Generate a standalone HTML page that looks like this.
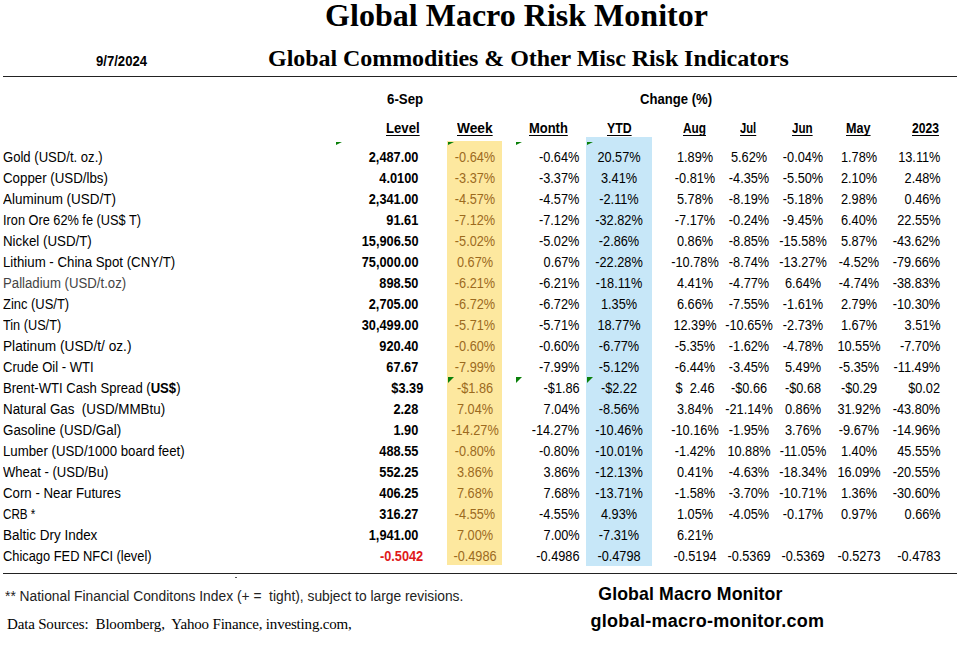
<!DOCTYPE html>
<html><head><meta charset="utf-8"><style>
html,body{margin:0;padding:0;background:#fff;}
body{width:969px;height:655px;position:relative;overflow:hidden;font-family:"Liberation Sans",sans-serif;color:#000;}
.s{position:absolute;white-space:pre;}
.hd{font-weight:bold;text-decoration:underline;text-decoration-thickness:1px;text-underline-offset:1.5px;text-decoration-skip-ink:none;}
.ln{position:absolute;left:3px;width:954px;height:1px;background:#222;}
.tri{position:absolute;width:0;height:0;border-top:6px solid #0a800a;border-right:6px solid transparent;}
</style></head><body>
<div style="position:absolute;left:447px;top:141px;width:55px;height:424px;background:#fde89f;"></div>
<div style="position:absolute;left:586px;top:137px;width:66px;height:429px;background:#c7e7f8;"></div>
<div class="ln" style="top:76px;"></div>
<div class="ln" style="top:573px;"></div>
<div id="title" class="s" style="left:325.10px;top:-5.80px;font-size:32px;line-height:42px;letter-spacing:0.015px;font-family:'Liberation Serif',serif;font-weight:bold;">Global Macro Risk Monitor</div>
<div id="sub" class="s" style="left:268.10px;top:43.00px;font-size:24px;line-height:31px;letter-spacing:-0.059px;font-family:'Liberation Serif',serif;font-weight:bold;">Global Commodities &amp; Other Misc Risk Indicators</div>
<div id="date" class="s" style="left:95.64px;top:52.05px;font-size:14px;line-height:18px;transform:scaleX(0.9366);transform-origin:0 50%;font-weight:bold;">9/7/2024</div>
<div id="sep" class="s" style="left:387.00px;top:90.35px;font-size:14px;line-height:18px;transform:scaleX(0.9474);transform-origin:0 50%;font-weight:bold;">6-Sep</div>
<div id="chg" class="s" style="left:640.00px;top:90.35px;font-size:14px;line-height:18px;transform:scaleX(0.9351);transform-origin:0 50%;font-weight:bold;">Change (%)</div>
<div id="h_Level" class="s hd" style="left:385.50px;top:118.75px;font-size:14px;line-height:18px;transform:scaleX(0.9395);transform-origin:0 50%;">Level</div>
<div id="h_Week" class="s hd" style="left:457.30px;top:118.75px;font-size:14px;line-height:18px;transform:scaleX(0.9815);transform-origin:0 50%;">Week</div>
<div id="h_Month" class="s hd" style="left:529.40px;top:118.75px;font-size:14px;line-height:18px;transform:scaleX(0.9244);transform-origin:0 50%;">Month</div>
<div id="h_YTD" class="s hd" style="left:607.00px;top:118.75px;font-size:14px;line-height:18px;transform:scaleX(0.8792);transform-origin:0 50%;">YTD</div>
<div id="h_Aug" class="s hd" style="left:683.20px;top:118.75px;font-size:14px;line-height:18px;transform:scaleX(0.8446);transform-origin:0 50%;">Aug</div>
<div id="h_Jul" class="s hd" style="left:740.40px;top:118.75px;font-size:14px;line-height:18px;transform:scaleX(0.8023);transform-origin:0 50%;">Jul</div>
<div id="h_Jun" class="s hd" style="left:791.90px;top:118.75px;font-size:14px;line-height:18px;transform:scaleX(0.8289);transform-origin:0 50%;">Jun</div>
<div id="h_May" class="s hd" style="left:846.30px;top:118.75px;font-size:14px;line-height:18px;transform:scaleX(0.9014);transform-origin:0 50%;">May</div>
<div id="h_2023" class="s hd" style="left:911.90px;top:118.75px;font-size:14px;line-height:18px;transform:scaleX(0.8656);transform-origin:0 50%;">2023</div>
<div id="lab0" class="s" style="left:3.05px;top:147.95px;font-size:14px;line-height:18px;transform:scaleX(0.9350);transform-origin:0 50%;">Gold (USD/t. oz.)</div>
<div id="lev0" class="s" style="right:550.60px;top:148.08px;font-size:14.5px;line-height:19px;font-weight:bold;transform:scaleX(0.880);transform-origin:100% 50%;">2,487.00</div>
<div id="t17" class="s" style="left:324.50px;width:300px;text-align:center;top:147.95px;font-size:14px;line-height:18px;transform:scaleX(0.910);color:#9c6a1e;">-0.64%</div>
<div id="t18" class="s" style="right:389.50px;top:147.95px;font-size:14px;line-height:18px;transform:scaleX(0.910);transform-origin:100% 50%;">-0.64%</div>
<div id="t19" class="s" style="left:469.00px;width:300px;text-align:center;top:147.95px;font-size:14px;line-height:18px;transform:scaleX(0.910);">20.57%</div>
<div id="t20" class="s" style="left:544.60px;width:300px;text-align:center;top:147.95px;font-size:14px;line-height:18px;transform:scaleX(0.910);">1.89%</div>
<div id="t21" class="s" style="left:598.80px;width:300px;text-align:center;top:147.95px;font-size:14px;line-height:18px;transform:scaleX(0.910);">5.62%</div>
<div id="t22" class="s" style="left:652.80px;width:300px;text-align:center;top:147.95px;font-size:14px;line-height:18px;transform:scaleX(0.910);">-0.04%</div>
<div id="t23" class="s" style="left:708.70px;width:300px;text-align:center;top:147.95px;font-size:14px;line-height:18px;transform:scaleX(0.910);">1.78%</div>
<div id="t24" class="s" style="right:28.50px;top:147.95px;font-size:14px;line-height:18px;transform:scaleX(0.910);transform-origin:100% 50%;">13.11%</div>
<div id="lab1" class="s" style="left:3.05px;top:168.95px;font-size:14px;line-height:18px;transform:scaleX(0.9498);transform-origin:0 50%;">Copper (USD/lbs)</div>
<div id="lev1" class="s" style="right:550.60px;top:169.08px;font-size:14.5px;line-height:19px;font-weight:bold;transform:scaleX(0.880);transform-origin:100% 50%;">4.0100</div>
<div id="t27" class="s" style="left:324.50px;width:300px;text-align:center;top:168.95px;font-size:14px;line-height:18px;transform:scaleX(0.910);color:#9c6a1e;">-3.37%</div>
<div id="t28" class="s" style="right:389.50px;top:168.95px;font-size:14px;line-height:18px;transform:scaleX(0.910);transform-origin:100% 50%;">-3.37%</div>
<div id="t29" class="s" style="left:469.00px;width:300px;text-align:center;top:168.95px;font-size:14px;line-height:18px;transform:scaleX(0.910);">3.41%</div>
<div id="t30" class="s" style="left:544.60px;width:300px;text-align:center;top:168.95px;font-size:14px;line-height:18px;transform:scaleX(0.910);">-0.81%</div>
<div id="t31" class="s" style="left:598.80px;width:300px;text-align:center;top:168.95px;font-size:14px;line-height:18px;transform:scaleX(0.910);">-4.35%</div>
<div id="t32" class="s" style="left:652.80px;width:300px;text-align:center;top:168.95px;font-size:14px;line-height:18px;transform:scaleX(0.910);">-5.50%</div>
<div id="t33" class="s" style="left:708.70px;width:300px;text-align:center;top:168.95px;font-size:14px;line-height:18px;transform:scaleX(0.910);">2.10%</div>
<div id="t34" class="s" style="right:28.50px;top:168.95px;font-size:14px;line-height:18px;transform:scaleX(0.910);transform-origin:100% 50%;">2.48%</div>
<div id="lab2" class="s" style="left:3.05px;top:189.95px;font-size:14px;line-height:18px;transform:scaleX(0.9616);transform-origin:0 50%;">Aluminum (USD/T)</div>
<div id="lev2" class="s" style="right:550.60px;top:190.08px;font-size:14.5px;line-height:19px;font-weight:bold;transform:scaleX(0.880);transform-origin:100% 50%;">2,341.00</div>
<div id="t37" class="s" style="left:324.50px;width:300px;text-align:center;top:189.95px;font-size:14px;line-height:18px;transform:scaleX(0.910);color:#9c6a1e;">-4.57%</div>
<div id="t38" class="s" style="right:389.50px;top:189.95px;font-size:14px;line-height:18px;transform:scaleX(0.910);transform-origin:100% 50%;">-4.57%</div>
<div id="t39" class="s" style="left:469.00px;width:300px;text-align:center;top:189.95px;font-size:14px;line-height:18px;transform:scaleX(0.910);">-2.11%</div>
<div id="t40" class="s" style="left:544.60px;width:300px;text-align:center;top:189.95px;font-size:14px;line-height:18px;transform:scaleX(0.910);">5.78%</div>
<div id="t41" class="s" style="left:598.80px;width:300px;text-align:center;top:189.95px;font-size:14px;line-height:18px;transform:scaleX(0.910);">-8.19%</div>
<div id="t42" class="s" style="left:652.80px;width:300px;text-align:center;top:189.95px;font-size:14px;line-height:18px;transform:scaleX(0.910);">-5.18%</div>
<div id="t43" class="s" style="left:708.70px;width:300px;text-align:center;top:189.95px;font-size:14px;line-height:18px;transform:scaleX(0.910);">2.98%</div>
<div id="t44" class="s" style="right:28.50px;top:189.95px;font-size:14px;line-height:18px;transform:scaleX(0.910);transform-origin:100% 50%;">0.46%</div>
<div id="lab3" class="s" style="left:3.05px;top:210.95px;font-size:14px;line-height:18px;transform:scaleX(0.9107);transform-origin:0 50%;">Iron Ore 62% fe (US$ T)</div>
<div id="lev3" class="s" style="right:550.60px;top:211.08px;font-size:14.5px;line-height:19px;font-weight:bold;transform:scaleX(0.880);transform-origin:100% 50%;">91.61</div>
<div id="t47" class="s" style="left:324.50px;width:300px;text-align:center;top:210.95px;font-size:14px;line-height:18px;transform:scaleX(0.910);color:#9c6a1e;">-7.12%</div>
<div id="t48" class="s" style="right:389.50px;top:210.95px;font-size:14px;line-height:18px;transform:scaleX(0.910);transform-origin:100% 50%;">-7.12%</div>
<div id="t49" class="s" style="left:469.00px;width:300px;text-align:center;top:210.95px;font-size:14px;line-height:18px;transform:scaleX(0.910);">-32.82%</div>
<div id="t50" class="s" style="left:544.60px;width:300px;text-align:center;top:210.95px;font-size:14px;line-height:18px;transform:scaleX(0.910);">-7.17%</div>
<div id="t51" class="s" style="left:598.80px;width:300px;text-align:center;top:210.95px;font-size:14px;line-height:18px;transform:scaleX(0.910);">-0.24%</div>
<div id="t52" class="s" style="left:652.80px;width:300px;text-align:center;top:210.95px;font-size:14px;line-height:18px;transform:scaleX(0.910);">-9.45%</div>
<div id="t53" class="s" style="left:708.70px;width:300px;text-align:center;top:210.95px;font-size:14px;line-height:18px;transform:scaleX(0.910);">6.40%</div>
<div id="t54" class="s" style="right:28.50px;top:210.95px;font-size:14px;line-height:18px;transform:scaleX(0.910);transform-origin:100% 50%;">22.55%</div>
<div id="lab4" class="s" style="left:3.05px;top:231.95px;font-size:14px;line-height:18px;transform:scaleX(0.9512);transform-origin:0 50%;">Nickel (USD/T)</div>
<div id="lev4" class="s" style="right:550.60px;top:232.08px;font-size:14.5px;line-height:19px;font-weight:bold;transform:scaleX(0.880);transform-origin:100% 50%;">15,906.50</div>
<div id="t57" class="s" style="left:324.50px;width:300px;text-align:center;top:231.95px;font-size:14px;line-height:18px;transform:scaleX(0.910);color:#9c6a1e;">-5.02%</div>
<div id="t58" class="s" style="right:389.50px;top:231.95px;font-size:14px;line-height:18px;transform:scaleX(0.910);transform-origin:100% 50%;">-5.02%</div>
<div id="t59" class="s" style="left:469.00px;width:300px;text-align:center;top:231.95px;font-size:14px;line-height:18px;transform:scaleX(0.910);">-2.86%</div>
<div id="t60" class="s" style="left:544.60px;width:300px;text-align:center;top:231.95px;font-size:14px;line-height:18px;transform:scaleX(0.910);">0.86%</div>
<div id="t61" class="s" style="left:598.80px;width:300px;text-align:center;top:231.95px;font-size:14px;line-height:18px;transform:scaleX(0.910);">-8.85%</div>
<div id="t62" class="s" style="left:652.80px;width:300px;text-align:center;top:231.95px;font-size:14px;line-height:18px;transform:scaleX(0.910);">-15.58%</div>
<div id="t63" class="s" style="left:708.70px;width:300px;text-align:center;top:231.95px;font-size:14px;line-height:18px;transform:scaleX(0.910);">5.87%</div>
<div id="t64" class="s" style="right:28.50px;top:231.95px;font-size:14px;line-height:18px;transform:scaleX(0.910);transform-origin:100% 50%;">-43.62%</div>
<div id="lab5" class="s" style="left:3.05px;top:252.95px;font-size:14px;line-height:18px;transform:scaleX(0.9459);transform-origin:0 50%;">Lithium - China Spot (CNY/T)</div>
<div id="lev5" class="s" style="right:550.60px;top:253.08px;font-size:14.5px;line-height:19px;font-weight:bold;transform:scaleX(0.880);transform-origin:100% 50%;">75,000.00</div>
<div id="t67" class="s" style="left:324.50px;width:300px;text-align:center;top:252.95px;font-size:14px;line-height:18px;transform:scaleX(0.910);color:#9c6a1e;">0.67%</div>
<div id="t68" class="s" style="right:389.50px;top:252.95px;font-size:14px;line-height:18px;transform:scaleX(0.910);transform-origin:100% 50%;">0.67%</div>
<div id="t69" class="s" style="left:469.00px;width:300px;text-align:center;top:252.95px;font-size:14px;line-height:18px;transform:scaleX(0.910);">-22.28%</div>
<div id="t70" class="s" style="left:544.60px;width:300px;text-align:center;top:252.95px;font-size:14px;line-height:18px;transform:scaleX(0.910);">-10.78%</div>
<div id="t71" class="s" style="left:598.80px;width:300px;text-align:center;top:252.95px;font-size:14px;line-height:18px;transform:scaleX(0.910);">-8.74%</div>
<div id="t72" class="s" style="left:652.80px;width:300px;text-align:center;top:252.95px;font-size:14px;line-height:18px;transform:scaleX(0.910);">-13.27%</div>
<div id="t73" class="s" style="left:708.70px;width:300px;text-align:center;top:252.95px;font-size:14px;line-height:18px;transform:scaleX(0.910);">-4.52%</div>
<div id="t74" class="s" style="right:28.50px;top:252.95px;font-size:14px;line-height:18px;transform:scaleX(0.910);transform-origin:100% 50%;">-79.66%</div>
<div id="lab6" class="s" style="left:3.05px;top:273.95px;font-size:14px;line-height:18px;transform:scaleX(0.9424);transform-origin:0 50%;color:#444;">Palladium (USD/t.oz)</div>
<div id="lev6" class="s" style="right:550.60px;top:274.08px;font-size:14.5px;line-height:19px;font-weight:bold;transform:scaleX(0.880);transform-origin:100% 50%;">898.50</div>
<div id="t77" class="s" style="left:324.50px;width:300px;text-align:center;top:273.95px;font-size:14px;line-height:18px;transform:scaleX(0.910);color:#9c6a1e;">-6.21%</div>
<div id="t78" class="s" style="right:389.50px;top:273.95px;font-size:14px;line-height:18px;transform:scaleX(0.910);transform-origin:100% 50%;">-6.21%</div>
<div id="t79" class="s" style="left:469.00px;width:300px;text-align:center;top:273.95px;font-size:14px;line-height:18px;transform:scaleX(0.910);">-18.11%</div>
<div id="t80" class="s" style="left:544.60px;width:300px;text-align:center;top:273.95px;font-size:14px;line-height:18px;transform:scaleX(0.910);">4.41%</div>
<div id="t81" class="s" style="left:598.80px;width:300px;text-align:center;top:273.95px;font-size:14px;line-height:18px;transform:scaleX(0.910);">-4.77%</div>
<div id="t82" class="s" style="left:652.80px;width:300px;text-align:center;top:273.95px;font-size:14px;line-height:18px;transform:scaleX(0.910);">6.64%</div>
<div id="t83" class="s" style="left:708.70px;width:300px;text-align:center;top:273.95px;font-size:14px;line-height:18px;transform:scaleX(0.910);">-4.74%</div>
<div id="t84" class="s" style="right:28.50px;top:273.95px;font-size:14px;line-height:18px;transform:scaleX(0.910);transform-origin:100% 50%;">-38.83%</div>
<div id="lab7" class="s" style="left:3.05px;top:294.95px;font-size:14px;line-height:18px;transform:scaleX(0.9240);transform-origin:0 50%;">Zinc (US/T)</div>
<div id="lev7" class="s" style="right:550.60px;top:295.08px;font-size:14.5px;line-height:19px;font-weight:bold;transform:scaleX(0.880);transform-origin:100% 50%;">2,705.00</div>
<div id="t87" class="s" style="left:324.50px;width:300px;text-align:center;top:294.95px;font-size:14px;line-height:18px;transform:scaleX(0.910);color:#9c6a1e;">-6.72%</div>
<div id="t88" class="s" style="right:389.50px;top:294.95px;font-size:14px;line-height:18px;transform:scaleX(0.910);transform-origin:100% 50%;">-6.72%</div>
<div id="t89" class="s" style="left:469.00px;width:300px;text-align:center;top:294.95px;font-size:14px;line-height:18px;transform:scaleX(0.910);">1.35%</div>
<div id="t90" class="s" style="left:544.60px;width:300px;text-align:center;top:294.95px;font-size:14px;line-height:18px;transform:scaleX(0.910);">6.66%</div>
<div id="t91" class="s" style="left:598.80px;width:300px;text-align:center;top:294.95px;font-size:14px;line-height:18px;transform:scaleX(0.910);">-7.55%</div>
<div id="t92" class="s" style="left:652.80px;width:300px;text-align:center;top:294.95px;font-size:14px;line-height:18px;transform:scaleX(0.910);">-1.61%</div>
<div id="t93" class="s" style="left:708.70px;width:300px;text-align:center;top:294.95px;font-size:14px;line-height:18px;transform:scaleX(0.910);">2.79%</div>
<div id="t94" class="s" style="right:28.50px;top:294.95px;font-size:14px;line-height:18px;transform:scaleX(0.910);transform-origin:100% 50%;">-10.30%</div>
<div id="lab8" class="s" style="left:3.05px;top:315.95px;font-size:14px;line-height:18px;transform:scaleX(0.9079);transform-origin:0 50%;">Tin (US/T)</div>
<div id="lev8" class="s" style="right:550.60px;top:316.08px;font-size:14.5px;line-height:19px;font-weight:bold;transform:scaleX(0.880);transform-origin:100% 50%;">30,499.00</div>
<div id="t97" class="s" style="left:324.50px;width:300px;text-align:center;top:315.95px;font-size:14px;line-height:18px;transform:scaleX(0.910);color:#9c6a1e;">-5.71%</div>
<div id="t98" class="s" style="right:389.50px;top:315.95px;font-size:14px;line-height:18px;transform:scaleX(0.910);transform-origin:100% 50%;">-5.71%</div>
<div id="t99" class="s" style="left:469.00px;width:300px;text-align:center;top:315.95px;font-size:14px;line-height:18px;transform:scaleX(0.910);">18.77%</div>
<div id="t100" class="s" style="left:544.60px;width:300px;text-align:center;top:315.95px;font-size:14px;line-height:18px;transform:scaleX(0.910);">12.39%</div>
<div id="t101" class="s" style="left:598.80px;width:300px;text-align:center;top:315.95px;font-size:14px;line-height:18px;transform:scaleX(0.910);">-10.65%</div>
<div id="t102" class="s" style="left:652.80px;width:300px;text-align:center;top:315.95px;font-size:14px;line-height:18px;transform:scaleX(0.910);">-2.73%</div>
<div id="t103" class="s" style="left:708.70px;width:300px;text-align:center;top:315.95px;font-size:14px;line-height:18px;transform:scaleX(0.910);">1.67%</div>
<div id="t104" class="s" style="right:28.50px;top:315.95px;font-size:14px;line-height:18px;transform:scaleX(0.910);transform-origin:100% 50%;">3.51%</div>
<div id="lab9" class="s" style="left:3.05px;top:336.95px;font-size:14px;line-height:18px;transform:scaleX(0.9769);transform-origin:0 50%;">Platinum (USD/t/ oz.)</div>
<div id="lev9" class="s" style="right:550.60px;top:337.08px;font-size:14.5px;line-height:19px;font-weight:bold;transform:scaleX(0.880);transform-origin:100% 50%;">920.40</div>
<div id="t107" class="s" style="left:324.50px;width:300px;text-align:center;top:336.95px;font-size:14px;line-height:18px;transform:scaleX(0.910);color:#9c6a1e;">-0.60%</div>
<div id="t108" class="s" style="right:389.50px;top:336.95px;font-size:14px;line-height:18px;transform:scaleX(0.910);transform-origin:100% 50%;">-0.60%</div>
<div id="t109" class="s" style="left:469.00px;width:300px;text-align:center;top:336.95px;font-size:14px;line-height:18px;transform:scaleX(0.910);">-6.77%</div>
<div id="t110" class="s" style="left:544.60px;width:300px;text-align:center;top:336.95px;font-size:14px;line-height:18px;transform:scaleX(0.910);">-5.35%</div>
<div id="t111" class="s" style="left:598.80px;width:300px;text-align:center;top:336.95px;font-size:14px;line-height:18px;transform:scaleX(0.910);">-1.62%</div>
<div id="t112" class="s" style="left:652.80px;width:300px;text-align:center;top:336.95px;font-size:14px;line-height:18px;transform:scaleX(0.910);">-4.78%</div>
<div id="t113" class="s" style="left:708.70px;width:300px;text-align:center;top:336.95px;font-size:14px;line-height:18px;transform:scaleX(0.910);">10.55%</div>
<div id="t114" class="s" style="right:28.50px;top:336.95px;font-size:14px;line-height:18px;transform:scaleX(0.910);transform-origin:100% 50%;">-7.70%</div>
<div id="lab10" class="s" style="left:3.05px;top:357.95px;font-size:14px;line-height:18px;transform:scaleX(0.9324);transform-origin:0 50%;">Crude Oil - WTI</div>
<div id="lev10" class="s" style="right:550.60px;top:358.08px;font-size:14.5px;line-height:19px;font-weight:bold;transform:scaleX(0.880);transform-origin:100% 50%;">67.67</div>
<div id="t117" class="s" style="left:324.50px;width:300px;text-align:center;top:357.95px;font-size:14px;line-height:18px;transform:scaleX(0.910);color:#9c6a1e;">-7.99%</div>
<div id="t118" class="s" style="right:389.50px;top:357.95px;font-size:14px;line-height:18px;transform:scaleX(0.910);transform-origin:100% 50%;">-7.99%</div>
<div id="t119" class="s" style="left:469.00px;width:300px;text-align:center;top:357.95px;font-size:14px;line-height:18px;transform:scaleX(0.910);">-5.12%</div>
<div id="t120" class="s" style="left:544.60px;width:300px;text-align:center;top:357.95px;font-size:14px;line-height:18px;transform:scaleX(0.910);">-6.44%</div>
<div id="t121" class="s" style="left:598.80px;width:300px;text-align:center;top:357.95px;font-size:14px;line-height:18px;transform:scaleX(0.910);">-3.45%</div>
<div id="t122" class="s" style="left:652.80px;width:300px;text-align:center;top:357.95px;font-size:14px;line-height:18px;transform:scaleX(0.910);">5.49%</div>
<div id="t123" class="s" style="left:708.70px;width:300px;text-align:center;top:357.95px;font-size:14px;line-height:18px;transform:scaleX(0.910);">-5.35%</div>
<div id="t124" class="s" style="right:28.50px;top:357.95px;font-size:14px;line-height:18px;transform:scaleX(0.910);transform-origin:100% 50%;">-11.49%</div>
<div id="lab11" class="s" style="left:3.05px;top:378.95px;font-size:14px;line-height:18px;transform:scaleX(0.9350);transform-origin:0 50%;">Brent-WTI Cash Spread (<b>US$</b>)</div>
<div id="lev11" class="s" style="right:546.10px;top:379.08px;font-size:14.5px;line-height:19px;font-weight:bold;transform:scaleX(0.880);transform-origin:100% 50%;">$3.39</div>
<div id="t127" class="s" style="left:324.50px;width:300px;text-align:center;top:378.95px;font-size:14px;line-height:18px;transform:scaleX(0.910);color:#9c6a1e;">-$1.86</div>
<div id="t128" class="s" style="right:389.50px;top:378.95px;font-size:14px;line-height:18px;transform:scaleX(0.910);transform-origin:100% 50%;">-$1.86</div>
<div id="t129" class="s" style="left:469.00px;width:300px;text-align:center;top:378.95px;font-size:14px;line-height:18px;transform:scaleX(0.910);">-$2.22</div>
<div id="t130" class="s" style="left:544.60px;width:300px;text-align:center;top:378.95px;font-size:14px;line-height:18px;transform:scaleX(0.910);">$&nbsp;&nbsp;2.46</div>
<div id="t131" class="s" style="left:598.80px;width:300px;text-align:center;top:378.95px;font-size:14px;line-height:18px;transform:scaleX(0.910);">-$0.66</div>
<div id="t132" class="s" style="left:652.80px;width:300px;text-align:center;top:378.95px;font-size:14px;line-height:18px;transform:scaleX(0.910);">-$0.68</div>
<div id="t133" class="s" style="left:708.70px;width:300px;text-align:center;top:378.95px;font-size:14px;line-height:18px;transform:scaleX(0.910);">-$0.29</div>
<div id="t134" class="s" style="right:28.50px;top:378.95px;font-size:14px;line-height:18px;transform:scaleX(0.910);transform-origin:100% 50%;">$0.02</div>
<div id="lab12" class="s" style="left:3.05px;top:399.95px;font-size:14px;line-height:18px;transform:scaleX(0.9563);transform-origin:0 50%;">Natural Gas&nbsp; (USD/MMBtu)</div>
<div id="lev12" class="s" style="right:550.60px;top:400.08px;font-size:14.5px;line-height:19px;font-weight:bold;transform:scaleX(0.880);transform-origin:100% 50%;">2.28</div>
<div id="t137" class="s" style="left:324.50px;width:300px;text-align:center;top:399.95px;font-size:14px;line-height:18px;transform:scaleX(0.910);color:#9c6a1e;">7.04%</div>
<div id="t138" class="s" style="right:389.50px;top:399.95px;font-size:14px;line-height:18px;transform:scaleX(0.910);transform-origin:100% 50%;">7.04%</div>
<div id="t139" class="s" style="left:469.00px;width:300px;text-align:center;top:399.95px;font-size:14px;line-height:18px;transform:scaleX(0.910);">-8.56%</div>
<div id="t140" class="s" style="left:544.60px;width:300px;text-align:center;top:399.95px;font-size:14px;line-height:18px;transform:scaleX(0.910);">3.84%</div>
<div id="t141" class="s" style="left:598.80px;width:300px;text-align:center;top:399.95px;font-size:14px;line-height:18px;transform:scaleX(0.910);">-21.14%</div>
<div id="t142" class="s" style="left:652.80px;width:300px;text-align:center;top:399.95px;font-size:14px;line-height:18px;transform:scaleX(0.910);">0.86%</div>
<div id="t143" class="s" style="left:708.70px;width:300px;text-align:center;top:399.95px;font-size:14px;line-height:18px;transform:scaleX(0.910);">31.92%</div>
<div id="t144" class="s" style="right:28.50px;top:399.95px;font-size:14px;line-height:18px;transform:scaleX(0.910);transform-origin:100% 50%;">-43.80%</div>
<div id="lab13" class="s" style="left:3.05px;top:420.95px;font-size:14px;line-height:18px;transform:scaleX(0.9546);transform-origin:0 50%;">Gasoline (USD/Gal)</div>
<div id="lev13" class="s" style="right:550.60px;top:421.08px;font-size:14.5px;line-height:19px;font-weight:bold;transform:scaleX(0.880);transform-origin:100% 50%;">1.90</div>
<div id="t147" class="s" style="left:324.50px;width:300px;text-align:center;top:420.95px;font-size:14px;line-height:18px;transform:scaleX(0.910);color:#9c6a1e;">-14.27%</div>
<div id="t148" class="s" style="right:389.50px;top:420.95px;font-size:14px;line-height:18px;transform:scaleX(0.910);transform-origin:100% 50%;">-14.27%</div>
<div id="t149" class="s" style="left:469.00px;width:300px;text-align:center;top:420.95px;font-size:14px;line-height:18px;transform:scaleX(0.910);">-10.46%</div>
<div id="t150" class="s" style="left:544.60px;width:300px;text-align:center;top:420.95px;font-size:14px;line-height:18px;transform:scaleX(0.910);">-10.16%</div>
<div id="t151" class="s" style="left:598.80px;width:300px;text-align:center;top:420.95px;font-size:14px;line-height:18px;transform:scaleX(0.910);">-1.95%</div>
<div id="t152" class="s" style="left:652.80px;width:300px;text-align:center;top:420.95px;font-size:14px;line-height:18px;transform:scaleX(0.910);">3.76%</div>
<div id="t153" class="s" style="left:708.70px;width:300px;text-align:center;top:420.95px;font-size:14px;line-height:18px;transform:scaleX(0.910);">-9.67%</div>
<div id="t154" class="s" style="right:28.50px;top:420.95px;font-size:14px;line-height:18px;transform:scaleX(0.910);transform-origin:100% 50%;">-14.96%</div>
<div id="lab14" class="s" style="left:3.05px;top:441.95px;font-size:14px;line-height:18px;transform:scaleX(0.9451);transform-origin:0 50%;">Lumber (USD/1000 board feet)</div>
<div id="lev14" class="s" style="right:550.60px;top:442.08px;font-size:14.5px;line-height:19px;font-weight:bold;transform:scaleX(0.880);transform-origin:100% 50%;">488.55</div>
<div id="t157" class="s" style="left:324.50px;width:300px;text-align:center;top:441.95px;font-size:14px;line-height:18px;transform:scaleX(0.910);color:#9c6a1e;">-0.80%</div>
<div id="t158" class="s" style="right:389.50px;top:441.95px;font-size:14px;line-height:18px;transform:scaleX(0.910);transform-origin:100% 50%;">-0.80%</div>
<div id="t159" class="s" style="left:469.00px;width:300px;text-align:center;top:441.95px;font-size:14px;line-height:18px;transform:scaleX(0.910);">-10.01%</div>
<div id="t160" class="s" style="left:544.60px;width:300px;text-align:center;top:441.95px;font-size:14px;line-height:18px;transform:scaleX(0.910);">-1.42%</div>
<div id="t161" class="s" style="left:598.80px;width:300px;text-align:center;top:441.95px;font-size:14px;line-height:18px;transform:scaleX(0.910);">10.88%</div>
<div id="t162" class="s" style="left:652.80px;width:300px;text-align:center;top:441.95px;font-size:14px;line-height:18px;transform:scaleX(0.910);">-11.05%</div>
<div id="t163" class="s" style="left:708.70px;width:300px;text-align:center;top:441.95px;font-size:14px;line-height:18px;transform:scaleX(0.910);">1.40%</div>
<div id="t164" class="s" style="right:28.50px;top:441.95px;font-size:14px;line-height:18px;transform:scaleX(0.910);transform-origin:100% 50%;">45.55%</div>
<div id="lab15" class="s" style="left:3.05px;top:462.95px;font-size:14px;line-height:18px;transform:scaleX(0.9338);transform-origin:0 50%;">Wheat - (USD/Bu)</div>
<div id="lev15" class="s" style="right:550.60px;top:463.08px;font-size:14.5px;line-height:19px;font-weight:bold;transform:scaleX(0.880);transform-origin:100% 50%;">552.25</div>
<div id="t167" class="s" style="left:324.50px;width:300px;text-align:center;top:462.95px;font-size:14px;line-height:18px;transform:scaleX(0.910);color:#9c6a1e;">3.86%</div>
<div id="t168" class="s" style="right:389.50px;top:462.95px;font-size:14px;line-height:18px;transform:scaleX(0.910);transform-origin:100% 50%;">3.86%</div>
<div id="t169" class="s" style="left:469.00px;width:300px;text-align:center;top:462.95px;font-size:14px;line-height:18px;transform:scaleX(0.910);">-12.13%</div>
<div id="t170" class="s" style="left:544.60px;width:300px;text-align:center;top:462.95px;font-size:14px;line-height:18px;transform:scaleX(0.910);">0.41%</div>
<div id="t171" class="s" style="left:598.80px;width:300px;text-align:center;top:462.95px;font-size:14px;line-height:18px;transform:scaleX(0.910);">-4.63%</div>
<div id="t172" class="s" style="left:652.80px;width:300px;text-align:center;top:462.95px;font-size:14px;line-height:18px;transform:scaleX(0.910);">-18.34%</div>
<div id="t173" class="s" style="left:708.70px;width:300px;text-align:center;top:462.95px;font-size:14px;line-height:18px;transform:scaleX(0.910);">16.09%</div>
<div id="t174" class="s" style="right:28.50px;top:462.95px;font-size:14px;line-height:18px;transform:scaleX(0.910);transform-origin:100% 50%;">-20.55%</div>
<div id="lab16" class="s" style="left:3.05px;top:483.95px;font-size:14px;line-height:18px;transform:scaleX(0.9469);transform-origin:0 50%;">Corn - Near Futures</div>
<div id="lev16" class="s" style="right:550.60px;top:484.08px;font-size:14.5px;line-height:19px;font-weight:bold;transform:scaleX(0.880);transform-origin:100% 50%;">406.25</div>
<div id="t177" class="s" style="left:324.50px;width:300px;text-align:center;top:483.95px;font-size:14px;line-height:18px;transform:scaleX(0.910);color:#9c6a1e;">7.68%</div>
<div id="t178" class="s" style="right:389.50px;top:483.95px;font-size:14px;line-height:18px;transform:scaleX(0.910);transform-origin:100% 50%;">7.68%</div>
<div id="t179" class="s" style="left:469.00px;width:300px;text-align:center;top:483.95px;font-size:14px;line-height:18px;transform:scaleX(0.910);">-13.71%</div>
<div id="t180" class="s" style="left:544.60px;width:300px;text-align:center;top:483.95px;font-size:14px;line-height:18px;transform:scaleX(0.910);">-1.58%</div>
<div id="t181" class="s" style="left:598.80px;width:300px;text-align:center;top:483.95px;font-size:14px;line-height:18px;transform:scaleX(0.910);">-3.70%</div>
<div id="t182" class="s" style="left:652.80px;width:300px;text-align:center;top:483.95px;font-size:14px;line-height:18px;transform:scaleX(0.910);">-10.71%</div>
<div id="t183" class="s" style="left:708.70px;width:300px;text-align:center;top:483.95px;font-size:14px;line-height:18px;transform:scaleX(0.910);">1.36%</div>
<div id="t184" class="s" style="right:28.50px;top:483.95px;font-size:14px;line-height:18px;transform:scaleX(0.910);transform-origin:100% 50%;">-30.60%</div>
<div id="lab17" class="s" style="left:3.05px;top:504.95px;font-size:14px;line-height:18px;transform:scaleX(0.8328);transform-origin:0 50%;">CRB *</div>
<div id="lev17" class="s" style="right:550.60px;top:505.08px;font-size:14.5px;line-height:19px;font-weight:bold;transform:scaleX(0.880);transform-origin:100% 50%;">316.27</div>
<div id="t187" class="s" style="left:324.50px;width:300px;text-align:center;top:504.95px;font-size:14px;line-height:18px;transform:scaleX(0.910);color:#9c6a1e;">-4.55%</div>
<div id="t188" class="s" style="right:389.50px;top:504.95px;font-size:14px;line-height:18px;transform:scaleX(0.910);transform-origin:100% 50%;">-4.55%</div>
<div id="t189" class="s" style="left:469.00px;width:300px;text-align:center;top:504.95px;font-size:14px;line-height:18px;transform:scaleX(0.910);">4.93%</div>
<div id="t190" class="s" style="left:544.60px;width:300px;text-align:center;top:504.95px;font-size:14px;line-height:18px;transform:scaleX(0.910);">1.05%</div>
<div id="t191" class="s" style="left:598.80px;width:300px;text-align:center;top:504.95px;font-size:14px;line-height:18px;transform:scaleX(0.910);">-4.05%</div>
<div id="t192" class="s" style="left:652.80px;width:300px;text-align:center;top:504.95px;font-size:14px;line-height:18px;transform:scaleX(0.910);">-0.17%</div>
<div id="t193" class="s" style="left:708.70px;width:300px;text-align:center;top:504.95px;font-size:14px;line-height:18px;transform:scaleX(0.910);">0.97%</div>
<div id="t194" class="s" style="right:28.50px;top:504.95px;font-size:14px;line-height:18px;transform:scaleX(0.910);transform-origin:100% 50%;">0.66%</div>
<div id="lab18" class="s" style="left:3.05px;top:525.95px;font-size:14px;line-height:18px;transform:scaleX(0.9625);transform-origin:0 50%;">Baltic Dry Index</div>
<div id="lev18" class="s" style="right:550.60px;top:526.08px;font-size:14.5px;line-height:19px;font-weight:bold;transform:scaleX(0.880);transform-origin:100% 50%;">1,941.00</div>
<div id="t197" class="s" style="left:324.50px;width:300px;text-align:center;top:525.95px;font-size:14px;line-height:18px;transform:scaleX(0.910);color:#9c6a1e;">7.00%</div>
<div id="t198" class="s" style="right:389.50px;top:525.95px;font-size:14px;line-height:18px;transform:scaleX(0.910);transform-origin:100% 50%;">7.00%</div>
<div id="t199" class="s" style="left:469.00px;width:300px;text-align:center;top:525.95px;font-size:14px;line-height:18px;transform:scaleX(0.910);">-7.31%</div>
<div id="t200" class="s" style="left:544.60px;width:300px;text-align:center;top:525.95px;font-size:14px;line-height:18px;transform:scaleX(0.910);">6.21%</div>
<div id="t201" class="s" style="left:598.80px;width:300px;text-align:center;top:525.95px;font-size:14px;line-height:18px;transform:scaleX(0.910);"></div>
<div id="t202" class="s" style="left:652.80px;width:300px;text-align:center;top:525.95px;font-size:14px;line-height:18px;transform:scaleX(0.910);"></div>
<div id="t203" class="s" style="left:708.70px;width:300px;text-align:center;top:525.95px;font-size:14px;line-height:18px;transform:scaleX(0.910);"></div>
<div id="t204" class="s" style="right:28.50px;top:525.95px;font-size:14px;line-height:18px;transform:scaleX(0.910);transform-origin:100% 50%;"></div>
<div id="lab19" class="s" style="left:3.05px;top:546.95px;font-size:14px;line-height:18px;transform:scaleX(0.9180);transform-origin:0 50%;">Chicago FED NFCI (level)</div>
<div id="lev19" class="s" style="right:546.10px;top:547.08px;font-size:14.5px;line-height:19px;font-weight:bold;transform:scaleX(0.880);transform-origin:100% 50%;color:#e01a1a;">-0.5042</div>
<div id="t207" class="s" style="left:324.50px;width:300px;text-align:center;top:546.95px;font-size:14px;line-height:18px;transform:scaleX(0.910);color:#9c6a1e;">-0.4986</div>
<div id="t208" class="s" style="right:389.50px;top:546.95px;font-size:14px;line-height:18px;transform:scaleX(0.910);transform-origin:100% 50%;">-0.4986</div>
<div id="t209" class="s" style="left:469.00px;width:300px;text-align:center;top:546.95px;font-size:14px;line-height:18px;transform:scaleX(0.910);">-0.4798</div>
<div id="t210" class="s" style="left:544.60px;width:300px;text-align:center;top:546.95px;font-size:14px;line-height:18px;transform:scaleX(0.910);">-0.5194</div>
<div id="t211" class="s" style="left:598.80px;width:300px;text-align:center;top:546.95px;font-size:14px;line-height:18px;transform:scaleX(0.910);">-0.5369</div>
<div id="t212" class="s" style="left:652.80px;width:300px;text-align:center;top:546.95px;font-size:14px;line-height:18px;transform:scaleX(0.910);">-0.5369</div>
<div id="t213" class="s" style="left:708.70px;width:300px;text-align:center;top:546.95px;font-size:14px;line-height:18px;transform:scaleX(0.910);">-0.5273</div>
<div id="t214" class="s" style="right:28.50px;top:546.95px;font-size:14px;line-height:18px;transform:scaleX(0.910);transform-origin:100% 50%;">-0.4783</div>
<div class="tri" style="left:336px;top:142px;border-top-width:3px;"></div>
<div class="tri" style="left:448px;top:142px;border-top-width:3px;"></div>
<div class="tri" style="left:516px;top:142px;border-top-width:3px;"></div>
<div class="tri" style="left:587px;top:142px;border-top-width:3px;"></div>
<div class="tri" style="left:448px;top:377px;"></div>
<div class="tri" style="left:516px;top:377px;"></div>
<div class="tri" style="left:587px;top:377px;"></div>
<div style="position:absolute;left:235px;top:577px;width:2px;height:1px;background:#555;"></div>
<div id="note" class="s" style="left:4.50px;top:586.95px;font-size:14px;line-height:18px;transform:scaleX(0.9866);transform-origin:0 50%;color:#222;">** National Financial Conditons Index (+ =&nbsp; tight), subject to large revisions.</div>
<div id="src" class="s" style="left:7.04px;top:613.84px;font-size:15px;line-height:20px;letter-spacing:-0.180px;font-family:'Liberation Serif',serif;">Data Sources:&nbsp; Bloomberg,&nbsp; Yahoo Finance, investing.com,</div>
<div id="gmm" class="s" style="left:598.28px;top:583.07px;font-size:17.7px;line-height:23px;letter-spacing:0.123px;font-weight:bold;">Global Macro Monitor</div>
<div id="url" class="s" style="left:590.52px;top:610.36px;font-size:18px;line-height:23px;letter-spacing:0.282px;font-weight:bold;">global-macro-monitor.com</div>
</body></html>
